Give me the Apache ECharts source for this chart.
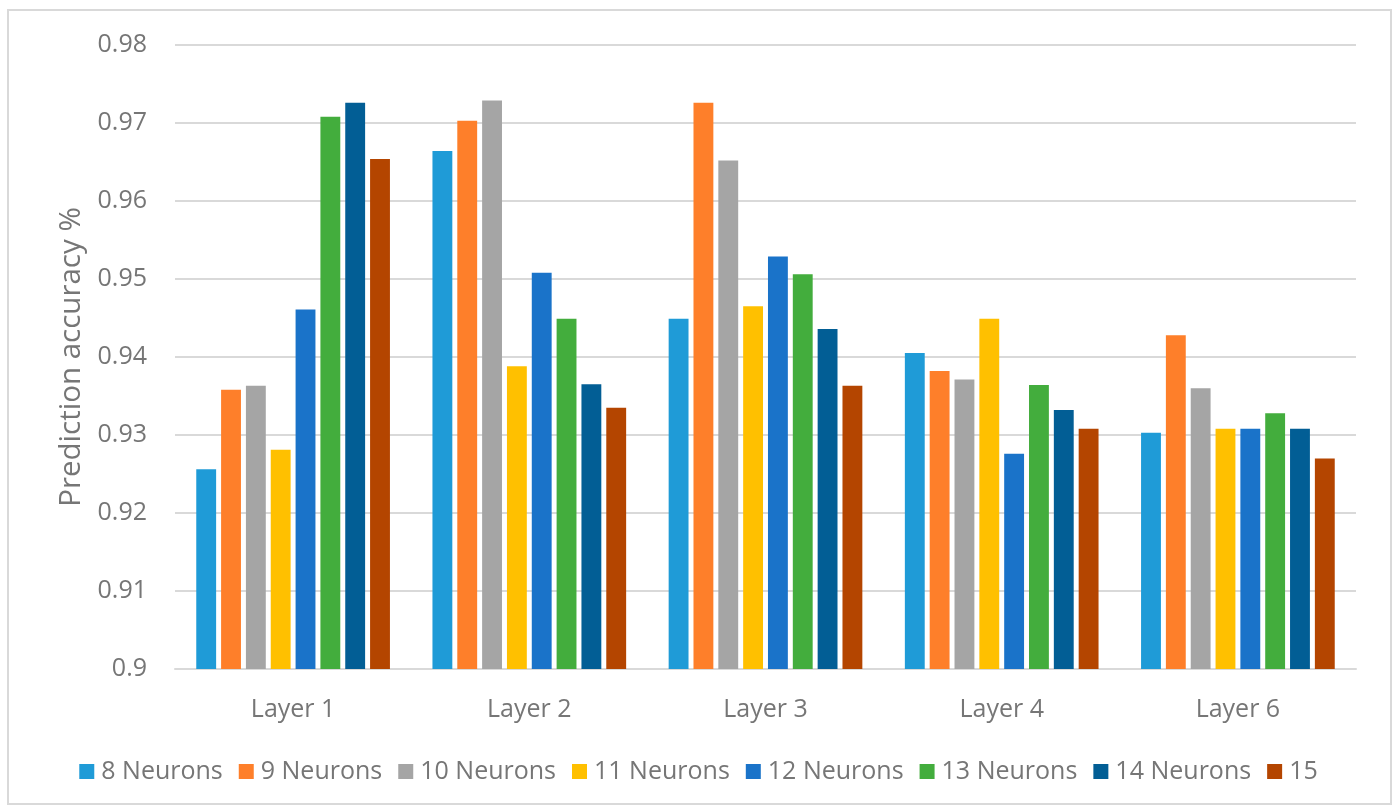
<!DOCTYPE html>
<html>
<head>
<meta charset="utf-8">
<title>Prediction accuracy by layer and neuron count</title>
<script src="https://cdn.jsdelivr.net/npm/echarts@6/dist/echarts.min.js"></script>
<style>
  html, body { margin: 0; padding: 0; background: #ffffff; }
  #chart { width: 1397px; height: 810px; }
</style>
</head>
<body>
<div id="chart"></div>
<script>
// Hidden-layer configurations on the x axis
const layers = ['Layer 1', 'Layer 2', 'Layer 3', 'Layer 4', 'Layer 6'];

// Series names (neurons per layer)
const seriesNames = ['8 Neurons', '9 Neurons', '10 Neurons', '11 Neurons',
                     '12 Neurons', '13 Neurons', '14 Neurons', '15'];

// Accuracy per layer, one array per neuron count
const n8  = [0.9256, 0.9664, 0.9449, 0.9405, 0.9303];
const n9  = [0.9358, 0.9703, 0.9726, 0.9382, 0.9428];
const n10 = [0.9363, 0.9729, 0.9652, 0.9371, 0.9360];
const n11 = [0.9281, 0.9388, 0.9465, 0.9449, 0.9308];
const n12 = [0.9461, 0.9508, 0.9529, 0.9276, 0.9308];
const n13 = [0.9708, 0.9449, 0.9506, 0.9364, 0.9328];
const n14 = [0.9726, 0.9365, 0.9436, 0.9332, 0.9308];
const n15 = [0.9654, 0.9335, 0.9363, 0.9308, 0.9270];

const seriesValues = [n8, n9, n10, n11, n12, n13, n14, n15];

const palette = ['#1f9bd7', '#fe7f2a', '#a5a5a5', '#ffc000',
                 '#1a73c9', '#43ad3d', '#025e95', '#b44500'];

const textColor = '#767676';
const gridColor = '#d9d9d9';
const fontFamily = '"Open Sans", "Noto Sans", sans-serif';

const chart = echarts.init(document.getElementById('chart'), null, { renderer: 'canvas' });

chart.setOption({
  backgroundColor: '#ffffff',
  animation: false,
  color: palette,
  textStyle: { fontFamily: fontFamily, color: textColor },
  graphic: [{
    type: 'rect',
    shape: { x: 8, y: 10, width: 1383, height: 794 },
    style: { fill: 'none', stroke: gridColor, lineWidth: 2 },
    silent: true
  }],
  grid: { left: 175, right: 41, top: 45, bottom: 141, containLabel: false },
  legend: {
    data: seriesNames,
    bottom: 21,
    left: 'center',
    itemWidth: 15,
    itemHeight: 15,
    itemGap: 16,
    icon: 'rect',
    textStyle: { fontFamily: fontFamily, fontSize: 25, color: textColor, padding: [0, 0, 0, 2] }
  },
  xAxis: {
    type: 'category',
    data: layers,
    axisLine: { lineStyle: { color: gridColor, width: 2 } },
    axisTick: { show: false },
    axisLabel: { fontFamily: fontFamily, fontSize: 25, color: textColor, margin: 28 }
  },
  yAxis: {
    type: 'value',
    min: 0.9,
    max: 0.98,
    interval: 0.01,
    name: 'Prediction accuracy %',
    nameLocation: 'middle',
    nameGap: 88,
    nameTextStyle: { fontFamily: fontFamily, fontSize: 29.5, color: textColor },
    axisLine: { show: false },
    axisTick: { show: false },
    splitLine: { lineStyle: { color: gridColor, width: 2 } },
    axisLabel: {
      fontFamily: fontFamily, fontSize: 25, color: textColor, margin: 28,
      formatter: v => String(Math.round(v * 100) / 100)
    }
  },
  series: seriesNames.map((name, i) => ({
    name: name,
    type: 'bar',
    data: seriesValues[i],
    barGap: '25%',
    barCategoryGap: '18%',
    itemStyle: { color: palette[i] }
  }))
});
</script>
</body>
</html>
